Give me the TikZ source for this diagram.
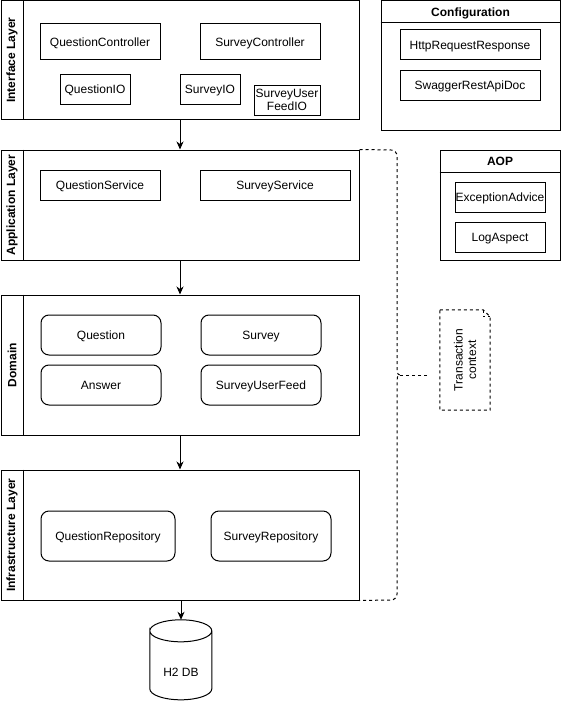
\documentclass[tikz,border=0pt]{standalone}
\usepackage{fontspec}
\setmainfont{Liberation Sans}
\usetikzlibrary{arrows.meta}
\begin{document}
\begin{tikzpicture}[x=1pt,y=-1pt,
  txt/.style={font=\fontsize{12}{13.5}\selectfont},
  box/.style={draw, line width=1pt, inner sep=0pt, align=center, txt, text depth=0pt},
  rbox/.style={box, rounded corners=8pt},
  sz/.style 2 args={minimum width=#1pt, minimum height=#2pt},
  layer/.style={draw, line width=1pt, inner sep=0pt},
  ttl/.style={font=\bfseries\fontsize{12}{13.5}\selectfont, rotate=90, inner sep=0pt},
  hdr/.style={font=\bfseries\fontsize{12}{13.5}\selectfont, inner sep=0pt, text depth=0pt},
  arr/.style={-{Stealth[length=8pt,width=7pt,inset=2.5pt]}, line width=1pt},
  dsh/.style={line width=1pt, dash pattern=on 3pt off 3pt}]
\useasboundingbox (0,0) rectangle (561,701);

% layers
\node[layer, sz={358}{118}] (iface) at (180,60) {};
\node[layer, sz={358}{110}] (app) at (180,205) {};
\node[layer, sz={358}{140}] (dom) at (180,365) {};
\node[layer, sz={358}{130}] (infra) at (180,535) {};
\foreach \l in {iface,app,dom,infra}{
  \draw[line width=1pt] ([xshift=22.5pt]\l.north west) -- ([xshift=22.5pt]\l.south west);
}
\node[ttl] (tiface) at (12,60) {Interface Layer};
\node[ttl] (tapp) at (12,205) {Application Layer};
\node[ttl] (tdom) at (12,365) {Domain};
\node[ttl] (tinfra) at (12,535) {Infrastructure Layer};

% interface
\node[box, sz={120}{36}] (qc) at (100,42) {QuestionController};
\node[box, sz={120}{36}] (sc) at (260,42) {SurveyController};
\node[box, sz={70}{30}] (qio) at (95,89) {QuestionIO};
\node[box, sz={60}{30}] (sio) at (210,89) {SurveyIO};
\node[box, sz={66}{30}] (sufio) at (287,100) {SurveyUser\\FeedIO};

% application
\node[box, sz={120}{30}] (qs) at (100,185) {QuestionService};
\node[box, sz={150}{30}] (ss) at (275,185) {SurveyService};

% domain
\node[rbox, sz={120}{40}] (q) at (101,335) {Question};
\node[rbox, sz={120}{40}] (s) at (261,335) {Survey};
\node[rbox, sz={120}{40}] (a) at (101,385) {Answer};
\node[rbox, sz={120}{40}] (suf) at (261,385) {SurveyUserFeed};

% infrastructure
\node[rbox, sz={134}{50}] (qr) at (108,536) {QuestionRepository};
\node[rbox, sz={120}{50}] (sr) at (271,536) {SurveyRepository};

% configuration
\node[layer, sz={179}{129}] (conf) at (470.5,65.5) {};
\draw[line width=1pt] ([yshift=-22pt]conf.north west) -- ([yshift=-22pt]conf.north east);
\node[hdr] (tconf) at (470.5,12.5) {Configuration};
\node[box, sz={140}{30}] (hrr) at (470,45) {HttpRequestResponse};
\node[box, sz={140}{30}] (swag) at (470,85) {SwaggerRestApiDoc};

% AOP
\node[layer, sz={120}{110}] (aop) at (500,205) {};
\draw[line width=1pt] ([yshift=-23pt]aop.north west) -- ([yshift=-23pt]aop.north east);
\node[hdr] (taop) at (500,161.5) {AOP};
\node[box, sz={90}{30}] (ea) at (500,197) {ExceptionAdvice};
\node[box, sz={90}{30}] (la) at (500,237) {LogAspect};

% database
\node[inner sep=0pt, sz={62}{80}] (db) at (181,660) {};
\draw[line width=1pt] (db.north west) ++(0,11) coordinate (dbl)
  arc[start angle=180, end angle=-180, x radius=31pt, y radius=11pt]
  -- ++(0,58) arc[start angle=180, end angle=360, x radius=31pt, y radius=11pt]
  -- ++(0,-58);
\node[txt, inner sep=0pt, text depth=0pt] (dbt) at (181,672) {H2 DB};

% arrows
\draw[arr] (iface.south) -- (app.north);
\draw[arr] (app.south) -- (dom.north);
\draw[arr] (dom.south) -- (infra.north);
\draw[arr] (infra.south -| db.north) -- (db.north);

% bracket
\coordinate (tip) at (400,375);
\draw[dsh] (app.north east) -- (391,150) to[out=0,in=90] (397,156) -- (397,369)
  to[out=-90,in=180] (tip) to[out=180,in=90] (397,381) -- (397,594)
  to[out=-90,in=0] (391,600) -- (infra.south east);

% note
\node[inner sep=0pt, sz={50}{100}] (note) at (465,360) {};
\draw[dsh] (note.north west) -- ([xshift=-7pt]note.north east) -- ([yshift=-7pt]note.north east)
  -- (note.south east) -- (note.south west) -- cycle;
\draw[dsh] ([xshift=-7pt]note.north east) -- ([xshift=-7pt,yshift=-7pt]note.north east) -- ([yshift=-7pt]note.north east);
\node[txt, rotate=90, align=center, inner sep=0pt] (notet) at (note.center) {Transaction\\context};
\coordinate (ne) at (427,375);
\draw[dsh] (ne) -- (tip);
\end{tikzpicture}
\end{document}
